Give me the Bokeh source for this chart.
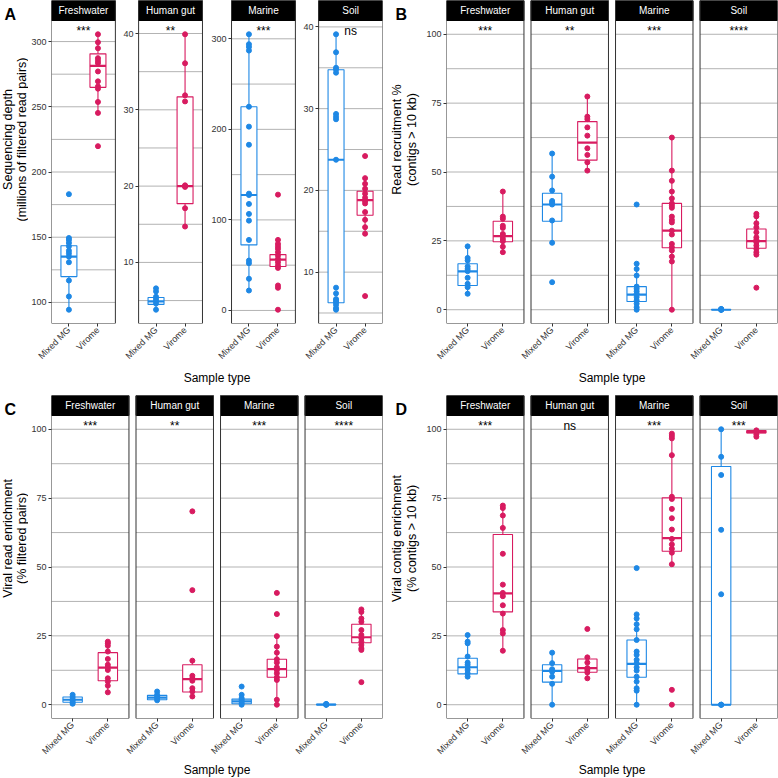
import math
from bokeh.plotting import figure
from bokeh.models import Range1d, FixedTicker, BoxAnnotation, Label, LinearAxis
from bokeh.layouts import row, column
from bokeh.embed import file_html
from bokeh.resources import INLINE

habitats = ["Freshwater", "Human gut", "Marine", "Soil"]
sample_types = ["Mixed MG", "Virome"]
x_title = "Sample type"

# ---------------- Panel A: sequencing depth (millions of filtered read pairs)
depth_fw_mg = [183, 149.4, 147.9, 145.6, 143.0, 139.7, 137.6, 135.1, 130.8, 116.8, 104.6, 94.4]
depth_fw_mg_box = [94.4, 119.8, 135.1, 143.5, 149.4]
depth_fw_vir = [305.6, 299.5, 294.9, 287.3, 285.3, 283.5, 277.1, 269.5, 265.6, 263.9, 253.7, 245.3, 219.8]
depth_fw_vir_box = [245.3, 264.9, 281.4, 290.6, 305.6]
depth_hg_mg = [6.6, 6.2, 5.5, 5.2, 4.9, 4.6, 3.8]
depth_hg_mg_box = [3.8, 4.5, 4.9, 5.4, 6.6]
depth_hg_vir = [39.9, 36.1, 31.9, 31.1, 20.1, 20.0, 19.9, 17.1, 14.7]
depth_hg_vir_box = [14.7, 17.7, 20.0, 31.7, 39.9]
depth_mar_mg = [305, 294, 291, 287, 225, 203, 183, 129, 127.5, 117.6, 106.6, 99.2, 77.9, 55.1, 52.2, 35.0, 22.0]
depth_mar_mg_box = [22.0, 72.4, 127.5, 224.9, 305]
depth_mar_vir = [127.9, 77.9, 73.5, 70.6, 68.0, 64.3, 60.6, 56.9, 53.2, 49.6, 47.0, 27.6, 25.0, 0.8]
depth_mar_vir_box = [47.0, 48.5, 56.2, 61.7, 77.9]
depth_soil_mg = [39.1, 36.9, 35.0, 34.8, 34.4, 29.35, 29.0, 28.7, 23.75, 8.1, 7.4, 6.7, 6.5, 6.3, 6.0, 5.6, 5.4]
depth_soil_mg_box = [5.4, 6.26, 23.75, 34.76, 39.1]
depth_soil_vir = [24.2, 21.5, 20.8, 20.2, 19.6, 19.1, 18.7, 18.4, 17.35, 16.4, 15.5, 14.7, 7.07]
depth_soil_vir_box = [14.7, 16.95, 18.8, 19.9, 21.5]
depth_fw_ticks, depth_fw_minor = [100, 150, 200, 250, 300], [125, 175, 225, 275]
depth_hg_ticks, depth_hg_minor = [10, 20, 30, 40], [5, 15, 25, 35]
depth_mar_ticks, depth_mar_minor = [0, 100, 200, 300], [50, 150, 250]
depth_soil_ticks, depth_soil_minor = [10, 20, 30, 40], [5, 15, 25, 35]
sig_A = ["***", "**", "***", "ns"]
title_A = ["Sequencing depth", "(millions of filtered read pairs)"]

# ---------------- Panel B: read recruitment % (contigs > 10 kb)
recr_fw_mg = [23.0, 18.8, 17.9, 15.7, 14.8, 14.0, 11.6, 9.4, 8.2, 5.8]
recr_fw_mg_box = [5.8, 8.8, 13.9, 16.7, 23.0]
recr_fw_vir = [42.9, 33.8, 33.0, 30.5, 29.7, 27.5, 26.7, 25.7, 24.9, 22.9, 20.9]
recr_fw_vir_box = [20.9, 24.7, 26.7, 32.1, 42.9]
recr_hg_mg = [56.7, 48.3, 43.3, 39.5, 38.9, 38.2, 32.4, 24.3, 10.0]
recr_hg_mg_box = [24.3, 32.1, 38.2, 42.3, 56.7]
recr_hg_vir = [77.4, 70.1, 69.2, 66.2, 63.2, 58.6, 56.2, 53.5, 50.5]
recr_hg_vir_box = [50.5, 54.3, 60.7, 68.3, 77.4]
recr_mar_mg = [38.2, 16.7, 14.8, 12.4, 8.4, 7.6, 6.7, 5.8, 4.6, 3.4, 2.2, 0.9, 0]
recr_mar_mg_box = [0, 3.0, 5.5, 8.4, 16.7]
recr_mar_vir = [62.5, 50.5, 46.8, 42.9, 40.4, 38.6, 37.8, 37.0, 33.8, 32.6, 31.7, 28.7, 27.3, 23.9, 22.7, 21.5, 19.3, 17.5, 0]
recr_mar_vir_box = [0, 22.5, 28.7, 38.6, 62.5]
recr_soil_mg = [0, 0, 0, 0.1, 0.2, 0.3]
recr_soil_mg_box = [0, 0, 0, 0.1, 0.3]
recr_soil_vir = [34.8, 33.9, 31.4, 29.9, 28.1, 26.3, 25.4, 24.5, 23.3, 22.1, 20.9, 20.0, 8.0]
recr_soil_vir_box = [20.0, 22.3, 24.9, 29.3, 34.8]
sig_B = ["***", "**", "***", "****"]
title_B = ["Read recruitment %", "(contigs > 10 kb)"]

# ---------------- Panel C: viral read enrichment (% filtered pairs)
vread_fw_mg = [3.6, 2.8, 2.0, 1.45, 0.84, 0.36]
vread_fw_mg_box = [0.36, 0.9, 1.8, 2.8, 3.6]
vread_fw_vir = [22.9, 22.3, 21.4, 19.3, 16.6, 14.5, 13.6, 12.6, 9.6, 8.4, 6.9, 4.5]
vread_fw_vir_box = [4.5, 8.7, 13.5, 18.9, 22.9]
vread_hg_mg = [4.8, 3.6, 3.0, 2.4, 1.6]
vread_hg_mg_box = [1.6, 1.8, 2.6, 3.4, 4.8]
vread_hg_vir = [70.2, 41.6, 16.0, 10.5, 9.6, 8.7, 6.0, 4.8, 3.0]
vread_hg_vir_box = [3.0, 4.6, 9.3, 14.5, 16.0]
vread_mar_mg = [6.6, 3.6, 2.4, 1.8, 1.2, 0.6, 0]
vread_mar_mg_box = [0, 0.36, 1.2, 2.05, 3.6]
vread_mar_vir = [40.6, 32.9, 24.9, 21.1, 18.9, 16.5, 15.3, 13.6, 12.6, 11.4, 10.0, 9.0, 1.8, 0]
vread_mar_vir_box = [0, 10.0, 12.9, 16.5, 24.9]
vread_soil_mg = [0, 0, 0.1, 0.2, 0.3]
vread_soil_mg_box = [0, 0, 0.05, 0.15, 0.3]
vread_soil_vir = [34.6, 33.7, 31.3, 30.1, 27.1, 25.3, 24.1, 22.9, 21.7, 20.5, 19.9, 8.2]
vread_soil_vir_box = [19.9, 22.5, 24.5, 29.2, 34.6]
sig_C = ["***", "**", "***", "****"]
title_C = ["Viral read enrichment", "(% filtered pairs)"]

# ---------------- Panel D: viral contig enrichment (% contigs > 10 kb)
vcont_fw_mg = [25.3, 22.9, 22.3, 17.5, 15.3, 14.5, 13.6, 12.6, 11.4, 10.2]
vcont_fw_mg_box = [10.2, 11.2, 13.6, 16.9, 25.3]
vcont_fw_vir = [72.3, 71.4, 68.7, 64.2, 54.8, 43.6, 40.6, 39.4, 36.1, 33.1, 27.1, 25.9, 19.6]
vcont_fw_vir_box = [19.6, 33.7, 40.4, 61.8, 72.3]
vcont_hg_mg = [18.9, 15.1, 12.9, 12.0, 10.2, 7.6, 0]
vcont_hg_mg_box = [0, 8.2, 12.3, 14.5, 18.9]
vcont_hg_vir = [27.5, 17.2, 15.3, 13.3, 12.6, 11.7, 9.6]
vcont_hg_vir_box = [9.6, 11.8, 13.3, 16.6, 17.2]
vcont_mar_mg = [49.6, 32.8, 31.3, 29.2, 27.4, 23.5, 19.3, 18.1, 16.3, 15.1, 13.6, 12.4, 10.2, 8.4, 6.0, 5.1, 0]
vcont_mar_mg_box = [0, 10.0, 14.8, 23.5, 32.8]
vcont_mar_vir = [98.4, 97.6, 96.7, 90.6, 75.5, 74.7, 71.1, 67.7, 63.6, 60.2, 58.2, 56.6, 55.2, 51.0, 5.4, 0]
vcont_mar_vir_box = [51.0, 55.7, 60.5, 75.1, 98.4]
vcont_soil_mg = [100, 90.0, 83.4, 63.5, 40.1, 0, 0, 0]
vcont_soil_mg_box = [0, 0, 0, 86.5, 100]
vcont_soil_vir = [99.6, 99.1, 98.2, 97.3]
vcont_soil_vir_box = [97.3, 98.7, 99.0, 99.5, 99.8]
sig_D = ["***", "ns", "***", "***"]
title_D = ["Viral contig enrichment", "(% contigs > 10 kb)"]

pct_ticks = [0, 25, 50, 75, 100]
pct_minor = [12.5, 37.5, 62.5, 87.5]

# ---------------- styling / layout helpers
S = 1.0


def sc(v):
    return int(round(v * S))


def fs(v):
    return f"{v * S:.2f}px"


FONT = "Liberation Sans"
BLUE, PINK = "#1E88E5", "#D81B60"
COLORS = [BLUE, PINK]
DARK = "#333333"
GRIDC = "#b3b3b3"
HALF = 27.5


def style_axis(ax, ticks):
    ax.ticker = FixedTicker(ticks=ticks)
    ax.axis_line_color = None
    ax.major_tick_line_color = DARK
    ax.major_tick_out = 3
    ax.major_tick_in = 0
    ax.minor_tick_line_color = None
    ax.major_label_standoff = 2
    ax.major_label_text_font = FONT
    ax.major_label_text_font_size = fs(9)
    ax.major_label_text_color = DARK


def blank_fig(x0, x1, y0, y1):
    w = sc(x1) - sc(x0)
    h = sc(y1) - sc(y0)
    p = figure(width=w, height=h, x_range=Range1d(0, w), y_range=Range1d(0, h),
               x_axis_location=None, y_axis_location=None, min_border=0,
               toolbar_location=None, output_backend="svg", title=None)
    p.outline_line_color = None
    p.background_fill_color = "white"
    p.border_fill_color = "white"
    for g in p.grid:
        g.visible = False
    return p, w, h


def add_text(p, x0, y0, h, X, Y, text, size, bold=False, angle=0.0,
             align="center", baseline="middle"):
    p.add_layout(Label(x=X * S - sc(x0), y=h - (Y * S - sc(y0)), text=text, angle=angle,
                       text_align=align, text_baseline=baseline, text_color="black",
                       text_font=FONT, text_font_size=fs(size),
                       text_font_style="bold" if bold else "normal"))


def side_fig(x0, x1, y0, y1, letter, letter_x, title_lines, title_xs, row_top):
    p, w, h = blank_fig(x0, x1, y0, y1)
    add_text(p, x0, y0, h, letter_x, row_top + 17, letter, 16, bold=True,
             align="left", baseline="alphabetic")
    for line, X in zip(title_lines, title_xs):
        add_text(p, x0, y0, h, X, row_top + 170, line, 12.5, angle=math.pi / 2)
    return p


def build_panel(facets, sigs, free, row_top, row_bottom, fig_left, frame_left, frame_right,
                fig_right, xlabel_standoff):
    lefts = [0, 300, 620, 920] if free else [0, 240, 480, 720]
    units = lefts[-1] + 220
    FW = sc(frame_right) - sc(frame_left)
    FH = sc(row_top + 323) - sc(row_top)
    SH = sc(row_top + 20) - sc(row_top)
    rngs = []
    for f in facets:
        if free:
            vals = f[0] + f[2]
            lo, hi = min(vals), max(vals)
        else:
            lo, hi = 0.0, 100.0
        pad = 0.05 * (hi - lo)
        ylo, yhi = lo - pad, hi + pad
        ytop = yhi + SH * (yhi - ylo) / (FH - SH)
        rngs.append((ylo, yhi, ytop))
    ylo0, yhi0, ytop0 = rngs[0]
    uy = (ytop0 - ylo0) / FH

    def dy(Y):
        return ytop0 - (Y * S - sc(row_top)) * uy

    p = figure(frame_width=FW, frame_height=FH,
               x_range=Range1d(0, units), y_range=Range1d(ylo0, ytop0),
               min_border_left=sc(frame_left) - sc(fig_left),
               min_border_right=sc(fig_right) - sc(frame_right),
               min_border_top=0, min_border_bottom=sc(row_bottom) - sc(row_top + 323),
               toolbar_location=None, output_backend="svg", title=None)
    p.background_fill_color = "white"
    p.border_fill_color = "white"
    p.outline_line_color = None
    p.xgrid.visible = False
    p.ygrid.visible = False
    yax0 = p.yaxis[0]
    xax = p.xaxis[0]
    if free:
        p.extra_y_ranges = {f"f{k}": Range1d(rngs[k][0], rngs[k][2]) for k in range(1, 4)}

    for k, (f, L) in enumerate(zip(facets, lefts)):
        rn = f"f{k}" if (free and k > 0) else "default"
        mg, mg_box, vir, vir_box, majors, minors = f
        gt = majors + minors
        p.segment(x0=[L] * len(gt), x1=[L + 220] * len(gt), y0=gt, y1=gt,
                  line_color=GRIDC, line_width=1, y_range_name=rn, level="underlay")
        for c, (pts, box) in enumerate(((mg, mg_box), (vir, vir_box))):
            xc = L + 60 + 100 * c
            col = COLORS[c]
            p.segment(x0=[xc, xc], x1=[xc, xc], y0=[box[0], box[3]], y1=[box[1], box[4]],
                      line_color=col, line_width=1.1, y_range_name=rn)
            p.quad(left=[xc - HALF], right=[xc + HALF], bottom=[box[1]], top=[box[3]],
                   fill_color="white", line_color=col, line_width=1.1, y_range_name=rn)
            p.segment(x0=[xc - HALF], x1=[xc + HALF], y0=[box[2]], y1=[box[2]],
                      line_color=col, line_width=2.2, y_range_name=rn)
            p.scatter(x=[xc] * len(pts), y=pts, size=5, fill_color=col, line_color=col,
                      y_range_name=rn)
        p.add_layout(BoxAnnotation(left=L, right=L + 220, bottom=yhi0, top=ytop0,
                                   fill_color="black", fill_alpha=1, line_color="black",
                                   line_alpha=1, line_width=1))
        p.add_layout(BoxAnnotation(left=L, right=L + 220, bottom=ylo0, top=ytop0,
                                   fill_color=None, fill_alpha=0, line_color=DARK,
                                   line_alpha=1, line_width=1))
        p.add_layout(Label(x=L + 110, y=(yhi0 + ytop0) / 2, text=habitats[k],
                           text_align="center", text_baseline="middle", text_color="white",
                           text_font=FONT, text_font_size=fs(10)))
        p.add_layout(Label(x=L + 110, y=dy(row_top + 30), text=sigs[k],
                           text_align="center", text_baseline="alphabetic", text_color="black",
                           text_font=FONT, text_font_size=fs(12)))
        if free and k > 0:
            ax = LinearAxis(y_range_name=rn, fixed_location=L)
            style_axis(ax, majors)
            p.add_layout(ax, "left")

    style_axis(yax0, facets[0][4])
    xticks = [L + 60 + 100 * c for L in lefts for c in (0, 1)]
    style_axis(xax, xticks)
    xax.major_label_overrides = {t: sample_types[i % 2] for i, t in enumerate(xticks)}
    xax.major_label_orientation = math.pi / 4
    xax.axis_label = x_title
    xax.axis_label_text_font = FONT
    xax.axis_label_text_font_size = fs(12)
    xax.axis_label_text_font_style = "normal"
    xax.axis_label_text_color = "black"
    xax.axis_label_standoff = xlabel_standoff
    return p


facets_A = [
    (depth_fw_mg, depth_fw_mg_box, depth_fw_vir, depth_fw_vir_box, depth_fw_ticks, depth_fw_minor),
    (depth_hg_mg, depth_hg_mg_box, depth_hg_vir, depth_hg_vir_box, depth_hg_ticks, depth_hg_minor),
    (depth_mar_mg, depth_mar_mg_box, depth_mar_vir, depth_mar_vir_box, depth_mar_ticks, depth_mar_minor),
    (depth_soil_mg, depth_soil_mg_box, depth_soil_vir, depth_soil_vir_box, depth_soil_ticks, depth_soil_minor),
]
facets_B = [
    (recr_fw_mg, recr_fw_mg_box, recr_fw_vir, recr_fw_vir_box, pct_ticks, pct_minor),
    (recr_hg_mg, recr_hg_mg_box, recr_hg_vir, recr_hg_vir_box, pct_ticks, pct_minor),
    (recr_mar_mg, recr_mar_mg_box, recr_mar_vir, recr_mar_vir_box, pct_ticks, pct_minor),
    (recr_soil_mg, recr_soil_mg_box, recr_soil_vir, recr_soil_vir_box, pct_ticks, pct_minor),
]
facets_C = [
    (vread_fw_mg, vread_fw_mg_box, vread_fw_vir, vread_fw_vir_box, pct_ticks, pct_minor),
    (vread_hg_mg, vread_hg_mg_box, vread_hg_vir, vread_hg_vir_box, pct_ticks, pct_minor),
    (vread_mar_mg, vread_mar_mg_box, vread_mar_vir, vread_mar_vir_box, pct_ticks, pct_minor),
    (vread_soil_mg, vread_soil_mg_box, vread_soil_vir, vread_soil_vir_box, pct_ticks, pct_minor),
]
facets_D = [
    (vcont_fw_mg, vcont_fw_mg_box, vcont_fw_vir, vcont_fw_vir_box, pct_ticks, pct_minor),
    (vcont_hg_mg, vcont_hg_mg_box, vcont_hg_vir, vcont_hg_vir_box, pct_ticks, pct_minor),
    (vcont_mar_mg, vcont_mar_mg_box, vcont_mar_vir, vcont_mar_vir_box, pct_ticks, pct_minor),
    (vcont_soil_mg, vcont_soil_mg_box, vcont_soil_vir, vcont_soil_vir_box, pct_ticks, pct_minor),
]

# rows: top (0..395), bottom (395..778)
sideA = side_fig(0, 28, 0, 395, "A", 4, title_A, [7, 21], 0)
figA = build_panel(facets_A, sig_A, True, 0, 395, 28, 51, 382, 383, 3)
sideB = side_fig(383, 420, 0, 395, "B", 395, title_B, [396.5, 411.5], 0)
figB = build_panel(facets_B, sig_B, False, 0, 395, 420, 446, 777, 778, 3)

sideC = side_fig(0, 28, 395, 778, "C", 4, title_C, [7, 21], 395)
figC = build_panel(facets_C, sig_C, False, 395, 778, 28, 51, 382, 383, 0)
sideD = side_fig(383, 420, 395, 778, "D", 395, title_D, [396.5, 411.5], 395)
figD = build_panel(facets_D, sig_D, False, 395, 778, 420, 446, 777, 778, 0)

layout = column(row(sideA, figA, sideB, figB), row(sideC, figC, sideD, figD))
open("out.html", "w").write(file_html(layout, INLINE))
